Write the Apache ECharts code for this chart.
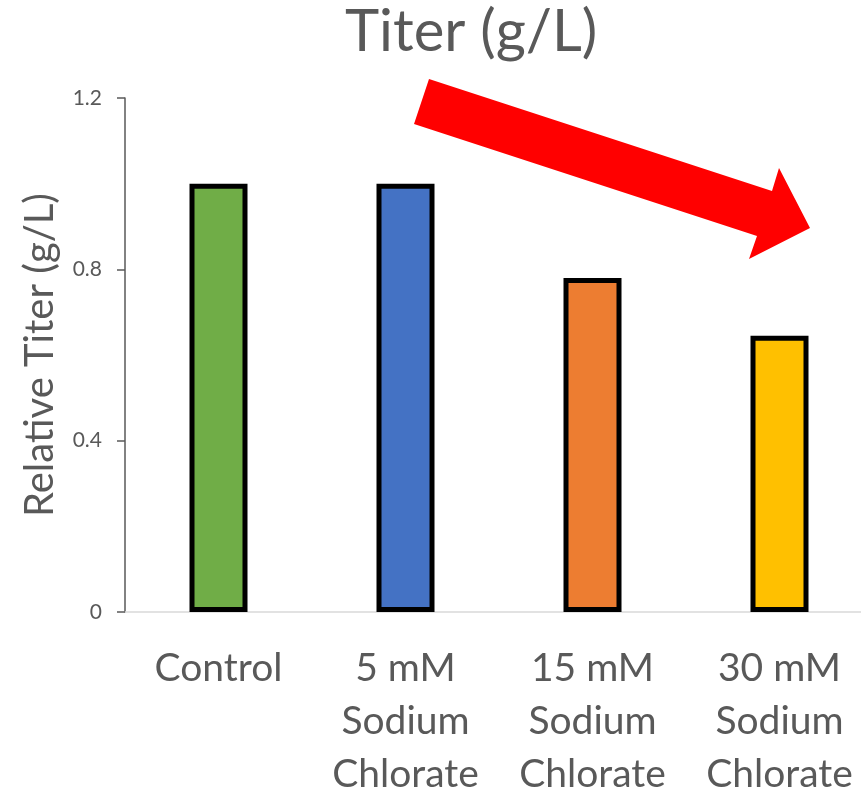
<!DOCTYPE html>
<html>
<head>
<meta charset="utf-8">
<script src="https://cdn.jsdelivr.net/npm/echarts@6/dist/echarts.min.js"></script>
<style>html,body{margin:0;padding:0;background:#fff}#c{width:861px;height:790px}</style>
</head>
<body>
<div id="c"></div>
<script>
var categories = ['Control', '5 mM\nSodium\nChlorate', '15 mM\nSodium\nChlorate', '30 mM\nSodium\nChlorate'];
var values = [1.0, 1.0, 0.78, 0.645];
var barColors = ['#70AD47', '#4472C4', '#ED7D31', '#FFC000'];
var yTicks = [0, 0.4, 0.8, 1.2];

var FONT = 'Lato';
var chart = echarts.init(document.getElementById('c'), null, {renderer: 'canvas'});
chart.setOption({
  animation: false,
  backgroundColor: '#fff',
  title: {
    text: 'Titer (g/L)', left: 340, top: -2,
    textStyle: {fontFamily: FONT, fontSize: 58, fontWeight: 'normal', color: '#595959'}
  },
  grid: {left: 125, right: -12, top: 98, bottom: 178, containLabel: false, outerBoundsMode: 'none'},
  xAxis: {
    type: 'category', data: categories,
    axisLine: {show: true, lineStyle: {color: '#d9d9d9', width: 1.5}},
    axisTick: {show: false},
    axisLabel: {interval: 0, margin: 30, fontFamily: FONT, fontSize: 39, lineHeight: 53, color: '#595959'}
  },
  yAxis: {
    type: 'value', min: yTicks[0], max: yTicks[yTicks.length - 1], interval: 0.4,
    name: 'Relative Titer (g/L)', nameLocation: 'middle', nameGap: 65, nameRotate: 90,
    nameTextStyle: {fontFamily: FONT, fontSize: 40, color: '#595959'},
    axisLine: {show: true, lineStyle: {color: '#595959', width: 1.5}},
    axisTick: {show: true, length: 8, lineStyle: {color: '#595959', width: 1.5}},
    splitLine: {show: false},
    axisLabel: {margin: 23, fontFamily: FONT, fontSize: 21, color: '#595959',
      formatter: function (v) { return String(Math.round(v * 10) / 10); }}
  },
  series: [{
    type: 'bar', barWidth: 58,
    data: values.map(function (v, i) {
      return {value: v, itemStyle: {color: barColors[i], borderColor: '#000', borderWidth: 5}};
    })
  }],
  graphic: [{
    type: 'polygon', z: 100,
    shape: {points: [[429, 79], [772, 191], [779, 168], [810, 228], [749, 259], [757, 236], [414, 124]]},
    style: {fill: '#FF0000'}
  }]
});
</script>
</body>
</html>
